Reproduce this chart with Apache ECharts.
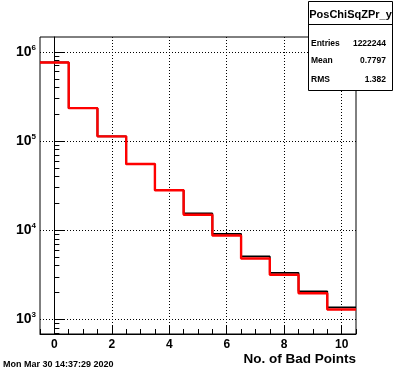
<!DOCTYPE html>
<html>
<head>
<meta charset="utf-8">
<script src="https://cdn.jsdelivr.net/npm/echarts@6/dist/echarts.min.js"></script>
<style>html,body{margin:0;padding:0;background:#fff}#c{width:396px;height:372px}</style>
</head>
<body>
<div id="c"></div>
<script>
// Bin centres (No. of Bad Points), width 1
var binCenters = [0, 1, 2, 3, 4, 5, 6, 7, 8, 9, 10];
// Black histogram (drawn under)
var blackValues = [762000, 234000, 113000, 55300, 28100, 15400, 9100, 5080, 3330, 2060, 1360];
// Red histogram (drawn on top)
var redValues = [762000, 234000, 113000, 55300, 28100, 14900, 8730, 4820, 3160, 1960, 1290];
// Axis tick labels
var xTickLabels = [0, 2, 4, 6, 8, 10];
var yTickLabels = [1000, 10000, 100000, 1000000];
// Stats box texts
var statsTitle = 'PosChiSqZPr_y';
var statsNames = ['Entries', 'Mean', 'RMS'];
var statsValues = ['1222244', '0.7797', '1.382'];
var xTitle = 'No. of Bad Points';
var dateText = 'Mon Mar 30 14:37:29 2020';

function stepData(vals) {
  var d = [];
  for (var i = 0; i < binCenters.length; i++) d.push([binCenters[i] - 0.5, vals[i]]);
  d.push([binCenters[binCenters.length - 1] + 0.5, vals[vals.length - 1]]);
  return d;
}
var xMinor = [];
for (var k = -1; k <= 21; k++) xMinor.push(k * 0.5);
var yMinor = [];
[100, 1000, 10000, 100000].forEach(function (b) {
  for (var m = 2; m <= 9; m++) { var v = m * b; if (v >= 685 && v <= 1470000) yMinor.push(v); }
});

var font = 'Liberation Sans, Arial, Helvetica, sans-serif';
var chart = echarts.init(document.getElementById('c'));
var dotted = { show: true, lineStyle: { color: '#000', width: 1, type: [1, 2] } };
chart.setOption({
  animation: false,
  grid: { left: 40, right: 40, top: 37, bottom: 38, show: true, borderColor: '#000', borderWidth: 1, backgroundColor: 'transparent' },
  xAxis: [{
    type: 'value', min: -0.5, max: 10.5,
    axisLine: { show: true, lineStyle: { color: '#000', width: 1 } },
    axisTick: { show: true, inside: true, length: 9, customValues: xTickLabels, lineStyle: { color: '#000' } },
    axisLabel: { customValues: xTickLabels, color: '#000', fontFamily: font, fontWeight: 'bold', fontSize: 12, margin: 5 },
    splitLine: dotted
  }, {
    type: 'value', min: -0.5, max: 10.5, position: 'bottom',
    axisLine: { show: false },
    axisTick: { show: true, inside: true, length: 5, customValues: xMinor, lineStyle: { color: '#000' } },
    axisLabel: { show: false },
    splitLine: { show: false }
  }],
  yAxis: [{
    type: 'log', logBase: 10, min: 685, max: 1470000,
    axisLine: { show: true, lineStyle: { color: '#000', width: 1 } },
    axisTick: { show: true, inside: true, length: 10, customValues: yTickLabels, lineStyle: { color: '#000' } },
    axisLabel: {
      customValues: yTickLabels, margin: 4,
      formatter: function (v) { return '{b|10}{s|' + Math.round(Math.log10(v)) + '}'; },
      rich: {
        b: { fontFamily: font, fontWeight: 'bold', fontSize: 14, color: '#000' },
        s: { fontFamily: font, fontWeight: 'bold', fontSize: 8, color: '#000', padding: [0, 0, 9, 0] }
      }
    },
    splitLine: dotted
  }, {
    type: 'log', logBase: 10, min: 685, max: 1470000, position: 'left',
    axisLine: { show: false },
    axisTick: { show: true, inside: true, length: 5, customValues: yMinor, lineStyle: { color: '#000' } },
    axisLabel: { show: false },
    splitLine: { show: false }
  }],
  series: [{
    type: 'line', step: 'end', symbol: 'none', data: stepData(blackValues),
    lineStyle: { color: '#000', width: 1.8 }, z: 3
  }, {
    type: 'line', step: 'end', symbol: 'none', data: stepData(redValues),
    lineStyle: { color: '#ff0000', width: 2.4 }, z: 4, zlevel: 1
  }],
  graphic: [
    { type: 'text', right: 40, top: 352, style: { text: xTitle, font: 'bold 13.5px ' + font, fill: '#000' } },
    { type: 'text', left: 3, top: 360, style: { text: dateText, font: 'bold 9px ' + font, fill: '#000' } },
    { type: 'rect', shape: { x: 308.5, y: 1.5, width: 84, height: 89 }, style: { fill: '#fff', stroke: '#000', lineWidth: 1 }, z: 10 },
    { type: 'line', shape: { x1: 308.5, y1: 24.5, x2: 392.5, y2: 24.5 }, style: { stroke: '#000', lineWidth: 1 }, z: 11 },
    { type: 'text', x: 350.5, y: 15, style: { text: statsTitle, font: 'bold 11px ' + font, fill: '#000', align: 'center', verticalAlign: 'middle' }, z: 11 },
    { type: 'text', x: 311, y: 44, style: { text: statsNames[0], font: 'bold 8.5px ' + font, fill: '#000', verticalAlign: 'middle' }, z: 11 },
    { type: 'text', x: 311, y: 61, style: { text: statsNames[1], font: 'bold 8.5px ' + font, fill: '#000', verticalAlign: 'middle' }, z: 11 },
    { type: 'text', x: 311, y: 80, style: { text: statsNames[2], font: 'bold 8.5px ' + font, fill: '#000', verticalAlign: 'middle' }, z: 11 },
    { type: 'text', x: 386, y: 44, style: { text: statsValues[0], font: 'bold 8.5px ' + font, fill: '#000', align: 'right', verticalAlign: 'middle' }, z: 11 },
    { type: 'text', x: 386, y: 61, style: { text: statsValues[1], font: 'bold 8.5px ' + font, fill: '#000', align: 'right', verticalAlign: 'middle' }, z: 11 },
    { type: 'text', x: 386, y: 80, style: { text: statsValues[2], font: 'bold 8.5px ' + font, fill: '#000', align: 'right', verticalAlign: 'middle' }, z: 11 }
  ]
});
</script>
</body>
</html>
